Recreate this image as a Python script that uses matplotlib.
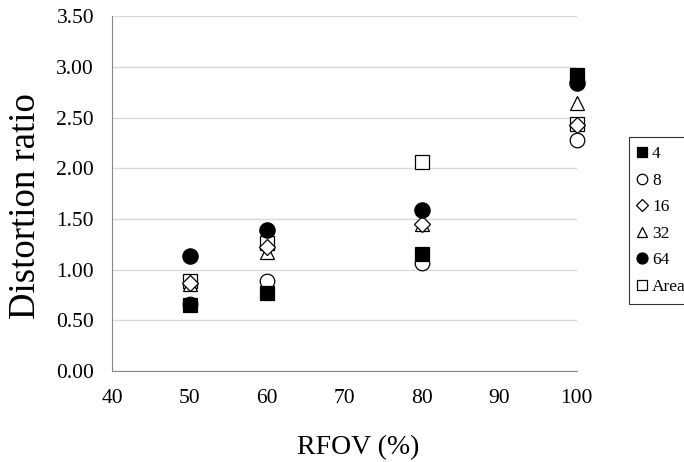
import matplotlib.pyplot as plt

plt.rcParams['font.family'] = ['Liberation Serif', 'DejaVu Serif']

rfov = [50, 60, 80, 100]
d4 = [0.65, 0.77, 1.15, 2.92]
d8 = [0.66, 0.89, 1.07, 2.28]
d16 = [0.87, 1.22, 1.45, 2.43]
d32 = [0.86, 1.17, 1.45, 2.64]
d64 = [1.13, 1.39, 1.59, 2.84]
area = [0.89, 1.26, 2.06, 2.44]

labels = ['4', '8', '16', '32', '64', 'Area']
series = [d4, d8, d16, d32, d64, area]
markers = ['s', 'o', 'D', '^', 'o', 's']
filled = [True, False, False, False, True, False]
sizes = [10, 10.5, 8, 10, 11, 10.5]

fig = plt.figure(figsize=(6.84, 4.62), dpi=100)
ax = fig.add_axes([0.164, 0.197, 0.679, 0.768])

# draw in reverse so the filled marks sit on top like the original
order = [5, 3, 2, 1, 0, 4]
handles = {}
for i in order:
    h, = ax.plot(rfov, series[i], linestyle='none', marker=markers[i],
                 markersize=sizes[i],
                 markerfacecolor='black' if filled[i] else 'white',
                 markeredgecolor='black', markeredgewidth=0.9,
                 label=labels[i], clip_on=False)
    handles[i] = h

ax.set_xlim(40, 100)
ax.set_ylim(0, 3.5)
ax.set_xticks([40, 50, 60, 70, 80, 90, 100])
ax.set_yticks([0, 0.5, 1.0, 1.5, 2.0, 2.5, 3.0, 3.5])
ax.set_yticklabels(['%.2f' % v for v in ax.get_yticks()])
ax.tick_params(length=0, labelsize=15.5)
ax.tick_params(axis='x', pad=13)
ax.tick_params(axis='y', pad=13)
ax.grid(axis='y', color='#d9d9d9', linewidth=1)
ax.set_axisbelow(True)
for s in ['top', 'right']:
    ax.spines[s].set_visible(False)
for s in ['left', 'bottom']:
    ax.spines[s].set_color('#888888')

ax.set_xlabel('RFOV (%)', fontsize=20)
ax.xaxis.set_label_coords(0.529, -0.18)
ax.set_ylabel('Distortion ratio', fontsize=26.5)
ax.yaxis.set_label_coords(-0.148, 0.465)

leg = fig.legend([handles[i] for i in range(6)], labels,
                 loc='upper left', bbox_to_anchor=(0.919, 0.703),
                 borderaxespad=0, fontsize=12.5, frameon=True, fancybox=False,
                 edgecolor='black', handlelength=0.55, handletextpad=0.3,
                 labelspacing=0.6, borderpad=0.5, markerscale=0.72)
leg.get_frame().set_linewidth(0.8)

fig.savefig('out.png', dpi=100)
